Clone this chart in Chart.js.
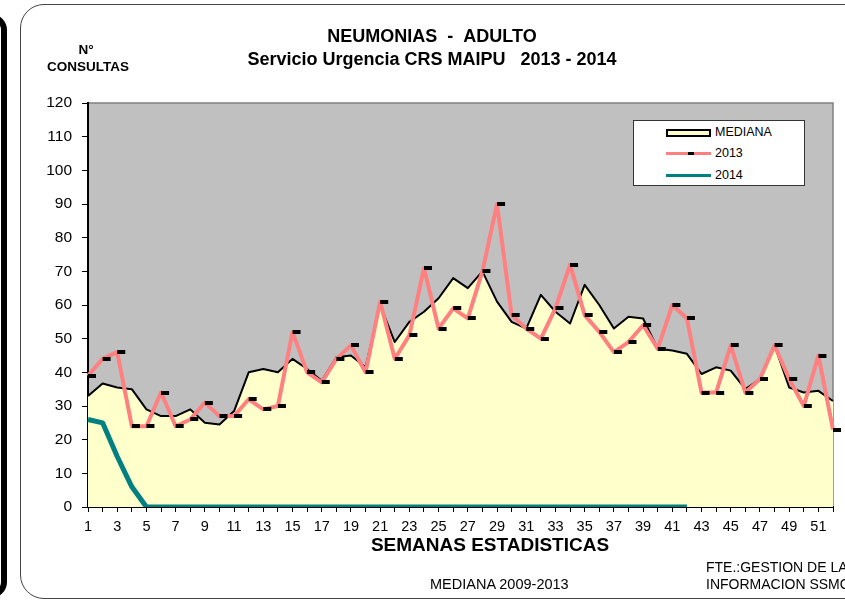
<!DOCTYPE html>
<html>
<head>
<meta charset="utf-8">
<script src="https://cdn.jsdelivr.net/npm/chart.js@4"></script>
<style>
    html, body { margin: 0; padding: 0; background: #fff; }
    body { width: 845px; height: 603px; position: relative; overflow: hidden; font-family: Arial, "Liberation Sans", sans-serif; }
    #marco { position: absolute; left: 20px; top: 4px; width: 850px; height: 595px; border: 1.5px solid #444; border-radius: 24px; box-sizing: border-box; }
    #vecino { position: absolute; left: -40px; top: 14px; width: 47px; height: 584px; border: 6px solid #000; border-radius: 16px; box-sizing: border-box; }
    #grafico { position: absolute; left: 0; top: 0; }
    .txt { position: absolute; color: #000; white-space: nowrap; }
    .titulo { left: 0; width: 864px; text-align: center; font-weight: bold; font-size: 18px; }
    .ejey { width: 120px; text-align: center; font-weight: bold; font-size: 13.5px; }
    #leyenda { position: absolute; left: 633px; top: 120px; width: 172px; height: 66px; background: #fff; border: 1px solid #333; box-sizing: border-box; font-size: 12.5px; }
    .fila { position: absolute; left: 32px; height: 14px; }
    .muestra { position: absolute; left: 0; width: 45px; }
    .fila span { position: absolute; left: 49px; top: -1px; }
</style>
</head>
<body>
<div id="vecino"></div>
<div id="marco"></div>
<canvas id="grafico" width="845" height="603"></canvas>

<div class="txt titulo" style="top:26px">NEUMONIAS&nbsp;&nbsp;-&nbsp;&nbsp;ADULTO</div>
<div class="txt titulo" style="top:49px">Servicio Urgencia CRS MAIPU&nbsp;&nbsp;&nbsp;2013 - 2014</div>
<div class="txt ejey" style="left:26px; top:42px">N°</div>
<div class="txt ejey" style="left:28px; top:59px">CONSULTAS</div>
<div class="txt" style="left:0; width:980px; text-align:center; top:534px; font-weight:bold; font-size:19px">SEMANAS ESTADISTICAS</div>
<div class="txt" style="left:430px; top:576px; font-size:14.5px">MEDIANA 2009-2013</div>
<div class="txt" style="left:706px; top:559px; font-size:14px">FTE.:GESTION DE LA</div>
<div class="txt" style="left:706px; top:576px; font-size:14px">INFORMACION SSMO</div>

<div id="leyenda">
    <div class="fila" style="top:5px">
        <div class="muestra" style="top:3px; height:8px; background:#FFFFCC; border:2px solid #000; box-sizing:border-box;"></div>
        <span>MEDIANA</span>
    </div>
    <div class="fila" style="top:26px">
        <div class="muestra" style="top:5px; height:3px; background:#FF8080;"></div>
        <div style="position:absolute; left:22px; top:5px; width:6px; height:3px; background:#000;"></div>
        <span>2013</span>
    </div>
    <div class="fila" style="top:48px">
        <div class="muestra" style="top:5px; height:3px; background:#008080;"></div>
        <span>2014</span>
    </div>
</div>

<script>
// semanas estadisticas 1..52
const semanas = [1, 2, 3, 4, 5, 6, 7, 8, 9, 10, 11, 12, 13, 14, 15, 16, 17, 18, 19, 20,
    21, 22, 23, 24, 25, 26, 27, 28, 29, 30, 31, 32, 33, 34, 35, 36, 37, 38, 39, 40,
    41, 42, 43, 44, 45, 46, 47, 48, 49, 50, 51, 52];

// mediana 2009-2013
const mediana = [33, 36.7, 35.5, 35, 29, 27, 27, 29, 25, 24.5, 28.5, 40, 41, 40, 44, 41, 37.5, 44.5, 45, 41.5,
    60, 49, 55, 58, 62, 68, 65, 70, 61, 55, 53, 63, 58, 54.5, 66, 60, 53, 56.5, 56, 47,
    46.5, 45.5, 39.5, 41.5, 40.5, 35, 38, 48, 35.5, 34, 34.5, 31.5];

const casos2013 = [39, 44, 46, 24, 24, 34, 24, 26, 31, 27, 27, 32, 29, 30, 52, 40, 37, 44, 48, 40,
    61, 44, 51, 71, 53, 59, 56, 70, 90, 57, 53, 50, 59, 72, 57, 52, 46, 49, 54, 47,
    60, 56, 34, 34, 48, 34, 38, 48, 38, 30, 45, 23];

// 2014 solo hasta la semana 42
const casos2014 = [26, 25, 15, 6, 0, 0, 0, 0, 0, 0, 0, 0, 0, 0, 0, 0, 0, 0, 0, 0,
    0, 0, 0, 0, 0, 0, 0, 0, 0, 0, 0, 0, 0, 0, 0, 0, 0, 0, 0, 0,
    0, 0, null, null, null, null, null, null, null, null, null, null];

const ticksY = [0, 10, 20, 30, 40, 50, 60, 70, 80, 90, 100, 110, 120];

// marcador tipo guion, corrido a la derecha del punto
const guion = document.createElement('canvas');
guion.width = 18;
guion.height = 4;
const g = guion.getContext('2d');
g.fillStyle = '#000';
g.fillRect(9, 0, 8, 4);

// fondo gris del area de trazado
const fondoGris = {
    id: 'fondoGris',
    beforeDraw(chart) {
        const { ctx, chartArea: a } = chart;
        ctx.save();
        ctx.fillStyle = '#C0C0C0';
        ctx.fillRect(a.left, a.top, a.right - a.left, a.bottom - a.top);
        ctx.strokeStyle = '#808080';
        ctx.lineWidth = 1.5;
        ctx.beginPath();
        ctx.moveTo(a.left, a.top);
        ctx.lineTo(a.right, a.top);
        ctx.lineTo(a.right, a.bottom);
        ctx.stroke();
        ctx.restore();
    }
};

const fuente = { family: 'Arial, "Liberation Sans", sans-serif' };

new Chart(document.getElementById('grafico').getContext('2d'), {
    type: 'line',
    data: {
        labels: semanas,
        datasets: [
            {
                label: '2013',
                data: casos2013,
                borderColor: '#FF8080',
                borderWidth: 4,
                borderJoinStyle: 'round',
                pointStyle: guion,
                pointRadius: 3,
                tension: 0,
                fill: false,
                order: 1
            },
            {
                label: '2014',
                data: casos2014,
                borderColor: '#008080',
                borderWidth: 5,
                borderJoinStyle: 'round',
                pointRadius: 0,
                tension: 0,
                fill: false,
                spanGaps: false,
                order: 2
            },
            {
                label: 'MEDIANA',
                data: mediana,
                borderColor: '#000000',
                borderWidth: 2,
                borderJoinStyle: 'round',
                backgroundColor: '#FFFFCC',
                pointRadius: 0,
                tension: 0,
                fill: 'origin',
                order: 3
            }
        ]
    },
    options: {
        responsive: false,
        animation: false,
        layout: { padding: { top: 103, right: 12, left: 0, bottom: 0 } },
        plugins: {
            legend: { display: false },
            tooltip: { enabled: false }
        },
        scales: {
            x: {
                offset: false,
                border: { color: '#000', width: 2 },
                grid: { drawOnChartArea: false, color: '#000', tickLength: 5 },
                ticks: {
                    autoSkip: false,
                    maxRotation: 0,
                    padding: 6,
                    color: '#000',
                    font: { ...fuente, size: 14.5 },
                    callback: (v, i) => (semanas[i] % 2 === 1 ? String(semanas[i]) : '')
                },
                afterFit: (s) => { s.height = 96; }
            },
            y: {
                min: 0,
                max: 120,
                afterBuildTicks: (s) => { s.ticks = ticksY.map(v => ({ value: v })); },
                border: { color: '#000', width: 2 },
                grid: { drawOnChartArea: false, color: '#000', tickLength: 6 },
                ticks: {
                    padding: 10,
                    color: '#000',
                    font: { ...fuente, size: 15.5 }
                },
                afterFit: (s) => { s.width = 88; }
            }
        }
    },
    plugins: [fondoGris]
});
</script>
</body>
</html>
